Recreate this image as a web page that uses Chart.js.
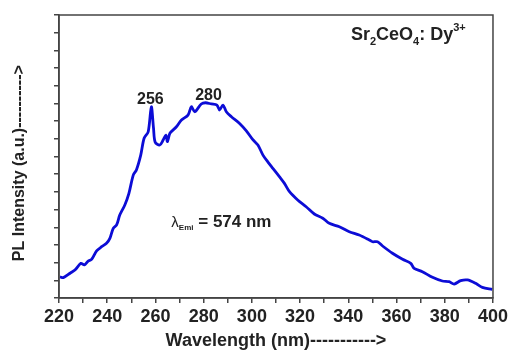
<!DOCTYPE html>
<html lang="en">
<head>
    <meta charset="UTF-8">
    <title>PL Excitation Spectrum</title>
    <script src="https://cdn.jsdelivr.net/npm/chart.js"></script>
    <style>
        html, body {
            margin: 0;
            padding: 0;
            background: #ffffff;
        }
        .chart-box {
            width: 511px;
            height: 354px;
        }
    </style>
</head>
<body>
    <div class="chart-box">
        <canvas id="plChart" width="511" height="354"></canvas>
    </div>

    <script>
        // wavelength (nm) and PL intensity (a.u.)
        const wavelength = [
            220.4, 221.8, 224.6, 226.6, 229.1, 230.5, 232.1, 233.5, 235.6, 237.7,
            239.7, 241.1, 242.5, 243.9, 245.2, 247.3, 249.0, 250.8, 252.1, 253.9,
            255.3, 257.0, 258.3, 259.2, 259.9, 261.8, 263.2, 264.3, 265.0, 266.0,
            268.7, 270.8, 273.5, 274.9, 276.3, 279.0, 280.8, 283.2, 285.5, 286.6,
            288.0, 289.4, 291.5, 294.9, 297.7, 300.4, 302.5, 304.6, 306.6, 308.7,
            311.4, 313.5, 315.6, 319.0, 322.5, 325.9, 329.4, 332.1, 336.3, 340.4,
            344.5, 348.7, 350.0, 352.1, 354.2, 358.3, 362.5, 365.9, 367.3, 370.7,
            374.9, 379.0, 381.8, 383.9, 386.6, 389.4, 392.8, 395.6, 399.7
        ];
        const intensity = [
            1.20, 1.15, 1.40, 1.58, 1.96, 1.87, 2.09, 2.18, 2.66, 2.90,
            3.09, 3.37, 3.94, 4.13, 4.69, 5.26, 5.92, 6.95, 7.24, 8.08,
            9.03, 9.40, 10.81, 9.60, 8.80, 8.65, 8.93, 9.21, 8.84, 9.31,
            9.68, 10.06, 10.34, 10.81, 10.53, 10.97, 11.04, 10.97, 10.91, 10.63,
            10.91, 10.53, 10.25, 9.87, 9.45, 8.95, 8.65, 8.08, 7.70, 7.33,
            6.86, 6.48, 6.01, 5.54, 5.16, 4.75, 4.51, 4.22, 4.03, 3.75,
            3.56, 3.28, 3.18, 3.18, 2.94, 2.53, 2.19, 1.96, 1.68, 1.49,
            1.17, 0.96, 0.92, 0.79, 0.98, 1.02, 0.83, 0.60, 0.49
        ];
        const xLabels = [220, 240, 260, 280, 300, 320, 340, 360, 380, 400];
        const peakLabels = ['256', '280'];
        const peakSpots = [[257.9, 10.97], [282.0, 11.2]];

        const points = wavelength.map((w, i) => ({ x: w, y: intensity[i] }));
        const ink = '#222222';
        const fam = '"Liberation Sans", Arial, sans-serif';

        // frame + text labels on the plot
        const extras = {
            id: 'extras',
            afterDraw(chart) {
                const ctx = chart.ctx;
                const a = chart.chartArea;
                const xs = chart.scales.x;
                const ys = chart.scales.y;
                ctx.save();
                ctx.strokeStyle = '#444';
                ctx.lineWidth = 1.5;
                ctx.strokeRect(a.left, a.top, a.right - a.left, a.bottom - a.top);

                ctx.fillStyle = ink;
                ctx.textAlign = 'center';
                ctx.textBaseline = 'alphabetic';
                ctx.font = 'bold 16px ' + fam;
                peakLabels.forEach((t, i) => {
                    ctx.fillText(t, xs.getPixelForValue(peakSpots[i][0]), ys.getPixelForValue(peakSpots[i][1]));
                });

                // Sr2CeO4: Dy3+
                ctx.textAlign = 'left';
                let x = xs.getPixelForValue(341.1);
                const yb = ys.getPixelForValue(14.58);
                const big = 'bold 18px ' + fam;
                const small = 'bold 11px ' + fam;
                const parts = [
                    ['Sr', big, 0], ['2', small, 5], ['CeO', big, 0], ['4', small, 5],
                    [': Dy', big, 0], ['3+', small, -9]
                ];
                parts.forEach(p => {
                    ctx.font = p[1];
                    ctx.fillText(p[0], x, yb + p[2]);
                    x += ctx.measureText(p[0]).width;
                });

                // lambda Emi = 574 nm
                x = xs.getPixelForValue(266.6);
                const yl = ys.getPixelForValue(4.03);
                const lparts = [
                    ['\u03bb', '15px ' + fam, 0],
                    ['Emi', 'bold 8px ' + fam, 3],
                    [' = 574 nm', 'bold 17px ' + fam, 0]
                ];
                lparts.forEach(p => {
                    ctx.font = p[1];
                    ctx.fillText(p[0], x, yl + p[2]);
                    x += ctx.measureText(p[0]).width;
                });
                ctx.restore();
            }
        };

        new Chart(document.getElementById('plChart').getContext('2d'), {
            type: 'line',
            data: {
                datasets: [{
                    data: points,
                    borderColor: '#0c0cd6',
                    borderWidth: 2.8,
                    pointRadius: 0,
                    tension: 0.3,
                    fill: false
                }]
            },
            options: {
                responsive: false,
                animation: false,
                layout: { padding: { top: 15, right: 17, left: 0, bottom: 0 } },
                plugins: { legend: { display: false }, tooltip: { enabled: false } },
                scales: {
                    x: {
                        type: 'linear',
                        min: 220,
                        max: 400,
                        afterFit: s => { s.height = 56; },
                        ticks: {
                            stepSize: 10,
                            autoSkip: false,
                            maxRotation: 0,
                            padding: 3,
                            color: ink,
                            font: { family: fam, size: 18, weight: 'bold' },
                            callback: v => xLabels.includes(v) ? String(v) : ''
                        },
                        grid: { drawOnChartArea: false, tickLength: 5, color: '#444', lineWidth: 1.5 },
                        border: { color: '#444', width: 1.5 },
                        title: {
                            display: true,
                            text: 'Wavelength (nm)----------->',
                            color: ink,
                            padding: { top: 0, bottom: 2 },
                            font: { family: fam, size: 18, weight: 'bold' }
                        }
                    },
                    y: {
                        min: 0,
                        max: 16,
                        afterFit: s => { s.width = 59; },
                        ticks: { stepSize: 1, display: false },
                        grid: { drawOnChartArea: false, tickLength: 5, color: '#444', lineWidth: 1.5 },
                        border: { color: '#444', width: 1.5 },
                        title: {
                            display: true,
                            text: 'PL Intensity (a.u.)---------->   ',
                            color: ink,
                            padding: { top: 10, bottom: 0 },
                            font: { family: fam, size: 16, weight: 'bold' }
                        }
                    }
                }
            },
            plugins: [extras]
        });
    </script>
</body>
</html>
